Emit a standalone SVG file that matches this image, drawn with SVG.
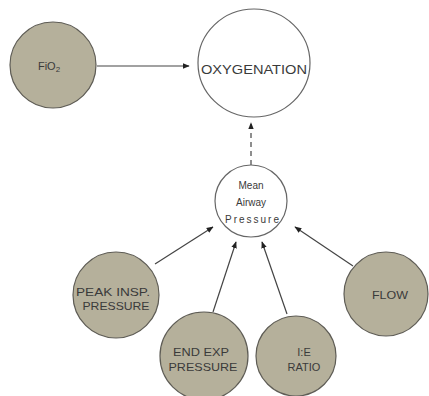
<svg xmlns="http://www.w3.org/2000/svg" width="429" height="396" viewBox="0 0 429 396">
<defs>
<style>
.g{fill:#b5b09b;stroke:#5e5c55;stroke-width:1.2}
.w{fill:#fff;stroke:#666;stroke-width:1.2}
text{font-family:"Liberation Sans",Arial,sans-serif;fill:#3a3a3a;text-anchor:middle}
.t{font-size:11px}
.m{font-size:10px}
.c{stroke:#444;stroke-width:1.2;fill:none}
</style>
<marker id="ah" viewBox="0 0 10 10" refX="9" refY="5" markerWidth="7" markerHeight="7" orient="auto" markerUnits="userSpaceOnUse">
<path d="M0,1 L10,5 L0,9 Z" fill="#222"/>
</marker>
</defs>
<rect width="429" height="396" fill="#fff"/>
<g id="connectors">
<line class="c" x1="97" y1="66" x2="189" y2="66" marker-end="url(#ah)"/>
<line class="c" x1="251" y1="165" x2="251" y2="123" stroke-dasharray="5,4" marker-end="url(#ah)"/>
<line class="c" x1="155" y1="264" x2="213" y2="227" marker-end="url(#ah)"/>
<line class="c" x1="213" y1="312" x2="236" y2="242" marker-end="url(#ah)"/>
<line class="c" x1="287" y1="314" x2="262" y2="242" marker-end="url(#ah)"/>
<line class="c" x1="353" y1="266" x2="295" y2="227" marker-end="url(#ah)"/>
</g>
<g id="fio2">
<circle class="g" cx="53" cy="65" r="43"/>
<text class="t" x="49" y="70">FiO<tspan font-size="8" dy="2">2</tspan></text>
</g>
<g id="oxygenation">
<ellipse class="w" cx="254" cy="63" rx="56" ry="54"/>
<text x="254" y="74" style="font-size:13.5px" textLength="106" lengthAdjust="spacingAndGlyphs">OXYGENATION</text>
</g>
<g id="mean">
<circle class="w" cx="251" cy="201" r="36"/>
<text class="m" x="251" y="189">Mean</text>
<text class="m" x="251" y="206">Airway</text>
<text class="m" x="252" y="223" textLength="54" lengthAdjust="spacing">Pressure</text>
</g>
<g id="peak">
<circle class="g" cx="116" cy="295" r="43"/>
<text class="t" x="113" y="296" textLength="74" lengthAdjust="spacingAndGlyphs">PEAK INSP.</text>
<text class="t" x="116" y="310" textLength="67" lengthAdjust="spacingAndGlyphs">PRESSURE</text>
</g>
<g id="endexp">
<circle class="g" cx="204" cy="356" r="44"/>
<text class="t" x="201" y="356" textLength="56" lengthAdjust="spacingAndGlyphs">END EXP</text>
<text class="t" x="203" y="371" textLength="69" lengthAdjust="spacingAndGlyphs">PRESSURE</text>
</g>
<g id="ie">
<circle class="g" cx="296" cy="356" r="40"/>
<text class="t" x="304" y="356">I:E</text>
<text class="t" x="304" y="371">RATIO</text>
</g>
<g id="flow">
<circle class="g" cx="386" cy="294" r="42"/>
<text class="t" x="390" y="299" textLength="36" lengthAdjust="spacingAndGlyphs">FLOW</text>
</g>
</svg>
